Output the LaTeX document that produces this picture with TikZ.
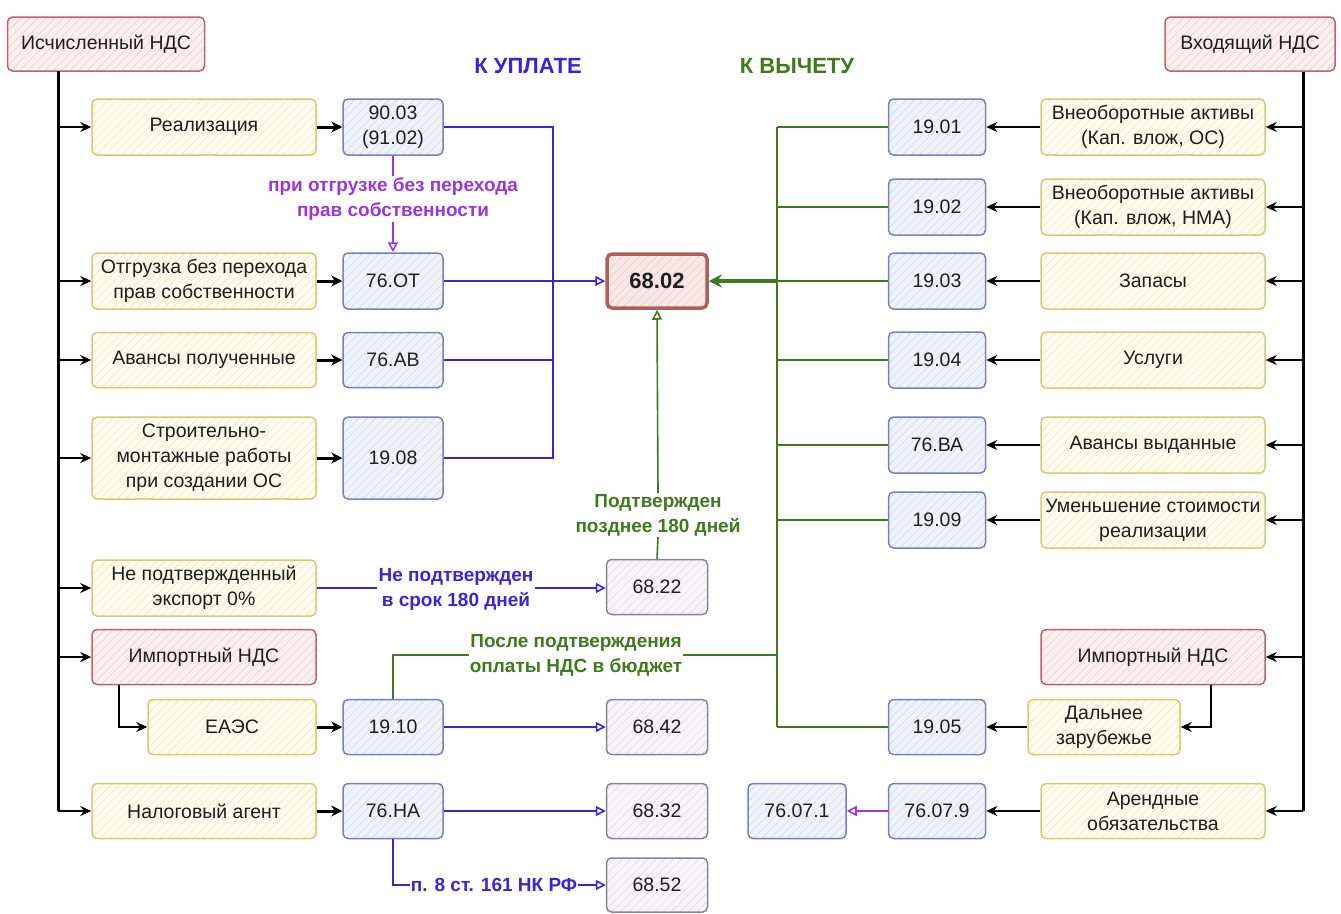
\documentclass[tikz,border=0pt]{standalone}
\usepackage{fontspec}
\setmainfont{Liberation Sans}
\usetikzlibrary{arrows.meta,patterns.meta,calc}

% palette
\definecolor{ybd}{HTML}{D2CC72}
\definecolor{yfl}{HTML}{FDFCEE}
\definecolor{yht}{HTML}{ECE6B6}
\definecolor{bbd}{HTML}{7580C0}
\definecolor{bfl}{HTML}{F1F3FB}
\definecolor{bht}{HTML}{CFD5EE}
\definecolor{rbd}{HTML}{C2626A}
\definecolor{rfl}{HTML}{FBF0F0}
\definecolor{rht}{HTML}{EEC8C8}
\definecolor{gbd}{HTML}{8C8296}
\definecolor{gfl}{HTML}{F7F5F8}
\definecolor{ght}{HTML}{DDD8E3}
\definecolor{mbd}{HTML}{AE605A}
\definecolor{mfl}{HTML}{F8E9E7}
\definecolor{mht}{HTML}{E9C9C5}
\definecolor{payc}{HTML}{3D22D8}
\definecolor{dedc}{HTML}{3F7A1E}
\definecolor{purc}{HTML}{9A35E0}
\definecolor{txt}{HTML}{1E1E1E}

\newcommand\boxfont{\fontsize{19.5}{25}\selectfont}
\newcommand\lblfont{\bfseries\fontsize{19}{25}\selectfont}
\newcommand\headfont{\bfseries\fontsize{22}{26}\selectfont}

\tikzset{
  box/.style={rounded corners=5pt, line width=1.5pt, align=center, inner sep=1pt,
    text=txt, font=\boxfont},
  hatch/.style={pattern={Lines[angle=45,distance=6pt,line width=0.5pt]}, pattern color=#1},
  ybox/.style={box, draw=ybd, preaction={fill=yfl}, hatch=yht,
    minimum width=224pt, minimum height=56pt},
  rbox/.style={box, draw=rbd, preaction={fill=rfl}, hatch=rht,
    minimum width=224pt, minimum height=55pt},
  bbox/.style={box, draw=bbd, preaction={fill=bfl}, hatch=bht,
    minimum width=100pt, minimum height=56pt},
  gbox/.style={box, draw=gbd, preaction={fill=gfl}, hatch=ght,
    minimum width=101pt, minimum height=55pt},
  mainbox/.style={box, draw=mbd, line width=3.5pt, preaction={fill=mfl}, hatch=mht,
    minimum width=100pt, minimum height=54pt, font=\headfont},
  lbl/.style={font=\lblfont, align=center, inner sep=1pt},
  trunk/.style={line width=3pt, black},
  arr/.style={line width=1.8pt, black, -{Stealth[length=11pt,width=10pt]}},
  barr/.style={line width=3pt, black, -{Stealth[length=11pt,width=11pt]}},
  payl/.style={line width=1.6pt, payc},
  payarr/.style={payl, -{Triangle[open,length=10pt,width=10pt]}},
  dedl/.style={line width=1.6pt, dedc},
  dedopen/.style={dedl, -{Triangle[open,length=10pt,width=10pt]}},
  dedmain/.style={line width=3.5pt, dedc, -{Stealth[length=13pt,width=13pt]}},
  purl/.style={line width=1.6pt, purc},
  purarr/.style={purl, -{Triangle[open,length=10pt,width=10pt]}},
}

\begin{document}
\begin{tikzpicture}[x=1pt,y=-1pt]
\useasboundingbox (0,0) rectangle (1341,913);

% headings
\node[font=\headfont, text=payc] (hpay) at (528,66) {К УПЛАТЕ};
\node[font=\headfont, text=dedc] (hded) at (797,66) {К ВЫЧЕТУ};

% ---- accrued VAT (left side)
\node[rbox, minimum width=197pt, minimum height=54pt] (isch) at (106,44) {Исчисленный НДС};
\node[ybox] (real) at (204,127) {Реализация};
\node[bbox] (a9003) at (393,127) {90.03\\(91.02)};
\node[ybox] (otgr) at (204,281) {Отгрузка без перехода\\прав собственности};
\node[bbox] (a76ot) at (393,281) {76.ОТ};
\node[ybox, minimum height=55pt] (avp) at (204,360) {Авансы полученные};
\node[bbox, minimum height=55pt] (a76av) at (393,360) {76.АВ};
\node[ybox, minimum height=82pt] (smr) at (204,458) {Строительно-\\монтажные работы\\при создании ОС};
\node[bbox, minimum height=82pt] (a1908) at (393,458) {19.08};
\node[ybox] (exp) at (204,588) {Не подтвержденный\\экспорт 0\%};
\node[rbox] (impl) at (204,657) {Импортный НДС};
\node[ybox, minimum width=168pt, minimum height=55pt] (eaes) at (232,727) {ЕАЭС};
\node[bbox, minimum height=55pt] (a1910) at (393,727) {19.10};
\node[ybox, minimum height=55pt] (agent) at (204,811) {Налоговый агент};
\node[bbox, minimum height=55pt] (a76na) at (393,811) {76.НА};

% ---- budget accounts
\node[mainbox] (m6802) at (657,281) {68.02};
\node[gbox] (m6822) at (657,587) {68.22};
\node[gbox] (m6842) at (657,727) {68.42};
\node[gbox] (m6832) at (657,811) {68.32};
\node[gbox, minimum height=54pt] (m6852) at (657,885) {68.52};

% ---- input VAT (right side)
\node[rbox, minimum width=170pt, minimum height=54pt] (vhod) at (1250,44) {Входящий НДС};
\node[bbox, minimum width=97pt] (a1901) at (937,127) {19.01};
\node[ybox] (vo1) at (1153,127) {Внеоборотные активы\\(Кап. влож, ОС)};
\node[bbox, minimum width=97pt] (a1902) at (937,207) {19.02};
\node[ybox] (vo2) at (1153,207) {Внеоборотные активы\\(Кап. влож, НМА)};
\node[bbox, minimum width=97pt] (a1903) at (937,281) {19.03};
\node[ybox] (zap) at (1153,281) {Запасы};
\node[bbox, minimum width=97pt] (a1904) at (937,360) {19.04};
\node[ybox] (usl) at (1153,360) {Услуги};
\node[bbox, minimum width=97pt] (a76va) at (937,445) {76.ВА};
\node[ybox] (avv) at (1153,445) {Авансы выданные};
\node[bbox, minimum width=97pt] (a1909) at (937,520) {19.09};
\node[ybox] (umen) at (1153,520) {Уменьшение стоимости\\реализации};
\node[rbox] (impr) at (1153,657) {Импортный НДС};
\node[ybox, minimum width=152pt, minimum height=55pt] (dz) at (1104,727) {Дальнее\\зарубежье};
\node[bbox, minimum width=97pt, minimum height=55pt] (a1905) at (937,727) {19.05};
\node[ybox, minimum height=55pt] (arenda) at (1153,811) {Арендные\\обязательства};
\node[bbox, minimum width=97pt, minimum height=55pt] (a76079) at (937,811) {76.07.9};
\node[bbox, minimum width=98pt, minimum height=55pt] (a76071) at (797,811) {76.07.1};

% ---- inline labels
\node[lbl, text=purc] (otgl) at (393,199) {при отгрузке без перехода\\прав собственности};
\node[lbl, text=payc] (nesrok) at (456,589) {Не подтвержден\\в срок 180 дней};
\node[lbl, text=dedc] (pozd) at (658,515) {Подтвержден\\позднее 180 дней};
\node[lbl, text=dedc] (posle) at (576,655) {После подтверждения\\оплаты НДС в бюджет};
\node[lbl, text=payc] (p8) at (494,885) {п. 8 ст. 161 НК РФ};

% ---- left trunk and branches
\coordinate (lt) at (58,811);
\draw[trunk] (isch.south -| lt) -- (lt);
\foreach \n in {real,otgr,avp,smr,exp,impl,agent}
  \draw[arr] (\n.west -| lt) -- (\n.west);
\draw[arr] ([xshift=28pt]impl.south west) |- (eaes.west);
\draw[barr] (real.east) -- (a9003.west);
\draw[barr] (otgr.east) -- (a76ot.west);
\draw[barr] (avp.east) -- (a76av.west);
\draw[barr] (smr.east) -- (a1908.west);
\draw[barr] (eaes.east) -- (a1910.west);
\draw[barr] (agent.east) -- (a76na.west);

% ---- payable flows
\coordinate (bc) at (553,281);
\draw[payl] (a9003.east) -| (bc);
\draw[payl] (a76av.east) -| (bc);
\draw[payl] (a1908.east) -| (bc);
\draw[payarr] (a76ot.east) -- (m6802.west);
\draw[purl] (a9003.south) -- (otgl.north);
\draw[purarr] (otgl.south) -- (a76ot.north);
\draw[payl] (exp.east) -- (exp.east -| nesrok.west);
\draw[payarr] (exp.east -| nesrok.east) -- (exp.east -| m6822.west);
\draw[payarr] (a1910.east) -- (m6842.west);
\draw[payarr] (a76na.east) -- (m6832.west);
\draw[payl] (a76na.south) |- (p8.west);
\draw[payarr] (p8.east) -- (m6852.west);

% ---- deductible flows
\coordinate (gtop) at (777,127);
\coordinate (gbot) at (777,727);
\draw[dedl] (gtop) -- (gbot);
\foreach \n in {a1901,a1902,a1903,a1904,a76va,a1909,a1905}
  \draw[dedl] (\n.west) -- (\n.west -| gtop);
\draw[dedmain] (a1903.west -| gtop) -- (m6802.east);
\draw[dedl] (m6822.north) -- (pozd.south);
\draw[dedopen] (pozd.north) -- (m6802.south);
\draw[dedl] (a1910.north) |- (posle.west);
\draw[dedl] (posle.east) -- (posle.east -| gtop);

% ---- right trunk and branches
\coordinate (rt) at (1303,811);
\draw[trunk] (vhod.south -| rt) -- (rt);
\foreach \n in {vo1,vo2,zap,usl,avv,umen,impr,arenda}
  \draw[arr] (\n.east -| rt) -- (\n.east);
\draw[arr] ([xshift=-55pt]impr.south east) |- (dz.east);
\draw[arr] (vo1.west) -- (a1901.east);
\draw[arr] (vo2.west) -- (a1902.east);
\draw[arr] (zap.west) -- (a1903.east);
\draw[arr] (usl.west) -- (a1904.east);
\draw[arr] (avv.west) -- (a76va.east);
\draw[arr] (umen.west) -- (a1909.east);
\draw[arr] (dz.west) -- (a1905.east);
\draw[arr] (arenda.west) -- (a76079.east);
\draw[purarr] (a76079.west) -- (a76071.east);
\end{tikzpicture}
\end{document}
